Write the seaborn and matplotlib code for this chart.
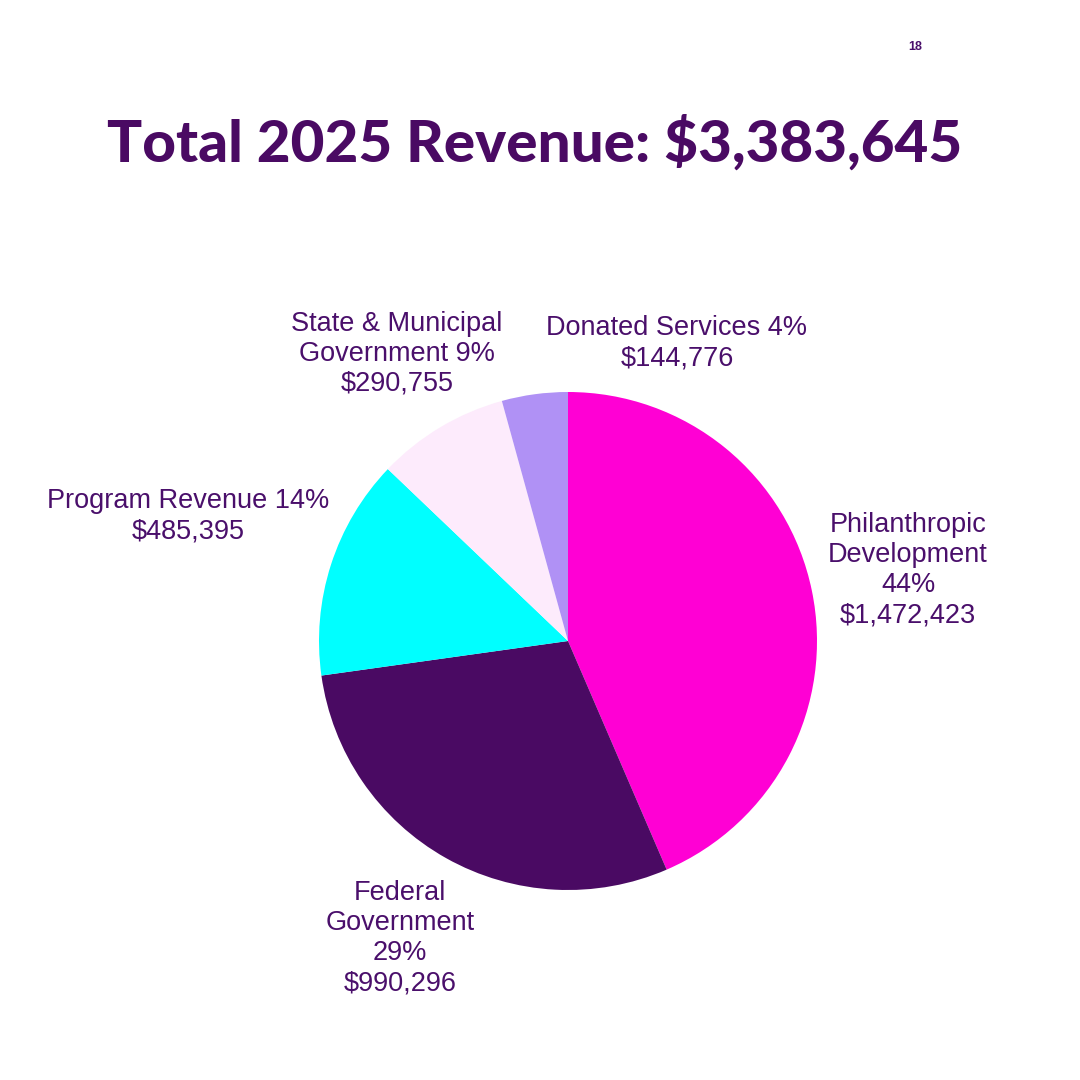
import matplotlib
matplotlib.use("Agg")
import matplotlib.pyplot as plt
import seaborn as sns

sns.set_theme(style="white")
plt.rcParams['font.family'] = ['Liberation Sans', 'DejaVu Sans']

categories = ["Philanthropic Development", "Federal Government", "Program Revenue",
              "State & Municipal Government", "Donated Services"]
values = [1472423, 990296, 485395, 290755, 144776]
label_texts = ["Philanthropic\nDevelopment\n44%\n$1,472,423",
               "Federal\nGovernment\n29%\n$990,296",
               "Program Revenue 14%\n$485,395",
               "State & Municipal\nGovernment 9%\n$290,755",
               "Donated Services 4%\n$144,776"]
colors = ["#FF00D4", "#4A0A63", "#00FFFF", "#FDEBFC", "#B091F5"]
label_pos = [(908, 570), (400, 938), (188, 516), (397, 354), (677, 343)]
txt = "#4A0F6B"

fig = plt.figure(figsize=(10.8, 10.8), dpi=100)
fig.patch.set_facecolor("white")
cx, cy, r = 568, 641, 249
ax = fig.add_axes([(cx - r) / 1080, 1 - (cy + r) / 1080, 2 * r / 1080, 2 * r / 1080])
ax.pie(values, colors=colors, startangle=90, counterclock=False, radius=1,
       wedgeprops=dict(linewidth=0))
ax.set_xlim(-1, 1); ax.set_ylim(-1, 1); ax.set_aspect("equal"); ax.axis("off")

for t, (x, y) in zip(label_texts, label_pos):
    fig.text(x / 1080, 1 - y / 1080, t, ha="center", va="center", fontsize=19.5,
             color=txt, linespacing=1.2)

fig.text(535 / 1080, 1 - 143 / 1080, "Total 2025 Revenue: $3,383,645", ha="center",
         va="center", fontsize=42, fontweight="black", color="#4A0A63",
         family=["Lato", "DejaVu Sans"])
fig.text(915 / 1080, 1 - 47 / 1080, "18", ha="center", va="center", fontsize=9,
         fontweight="bold", color=txt)

fig.savefig("out.png", dpi=100, facecolor="white")
